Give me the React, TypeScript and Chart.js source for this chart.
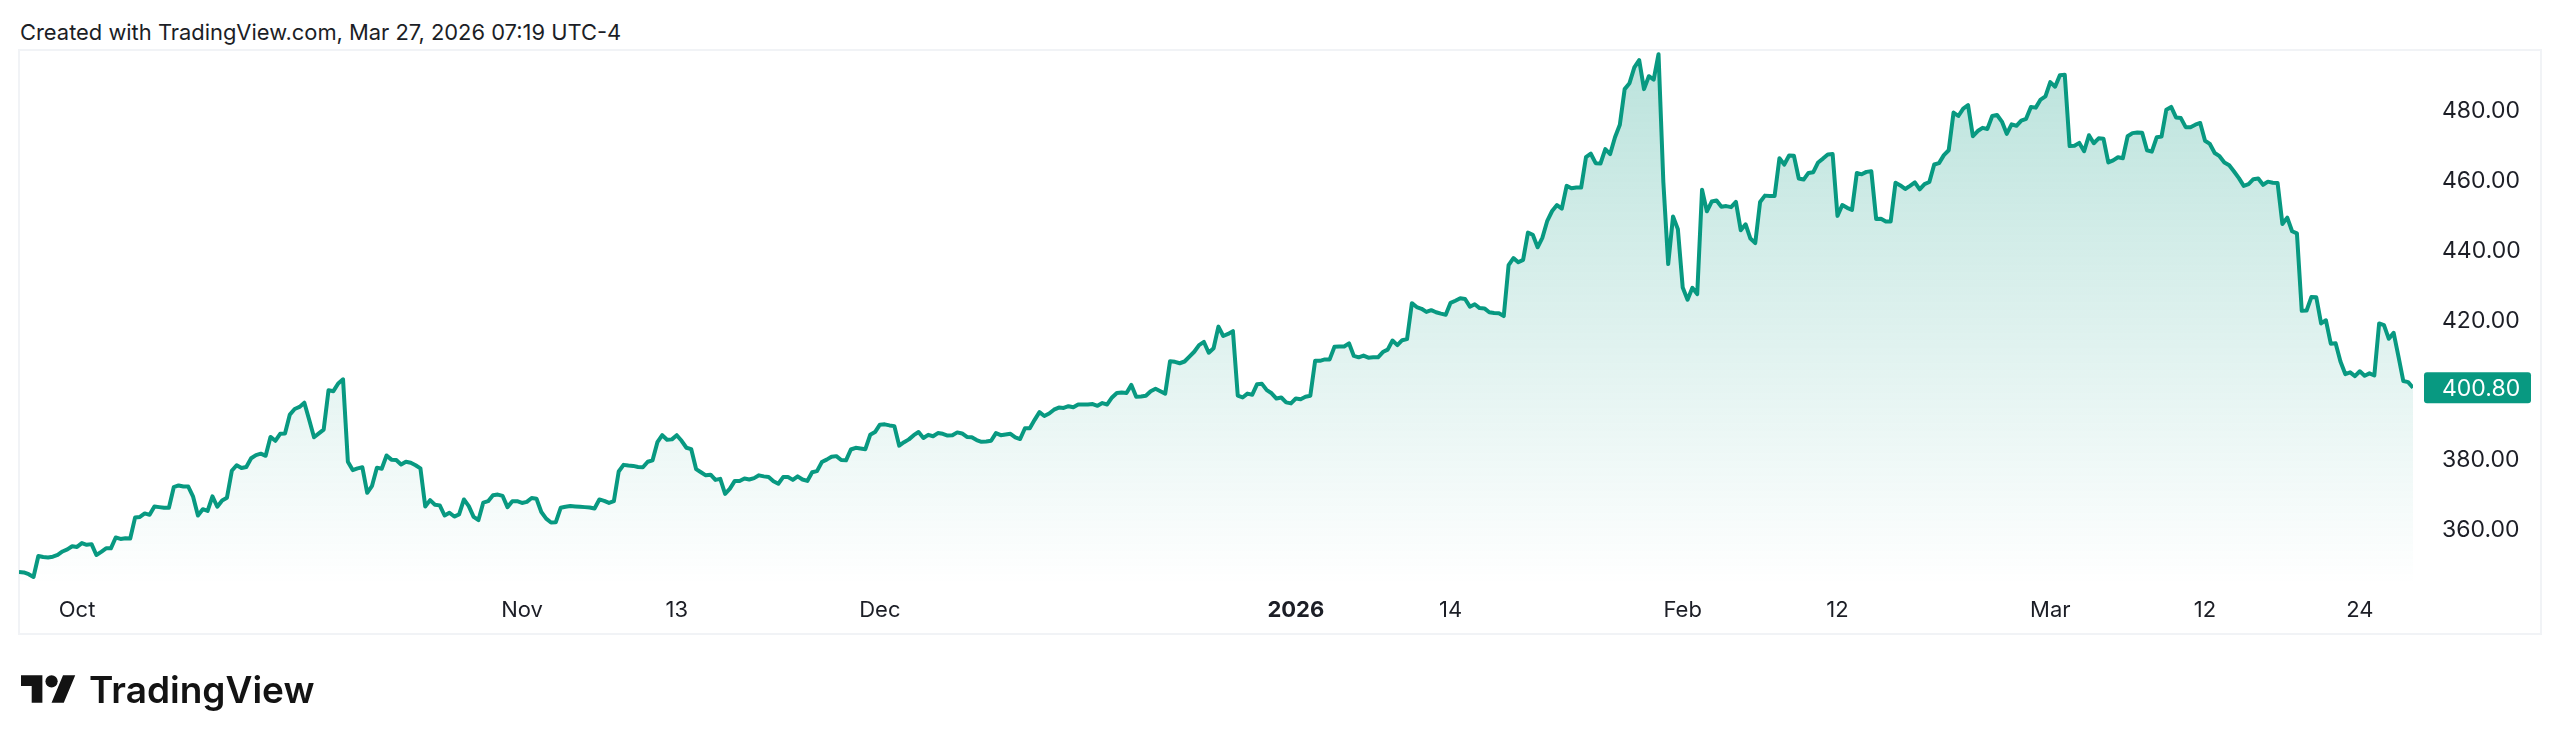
import { useEffect, useRef } from 'react'
import { Chart, registerables } from 'chart.js'

Chart.register(...registerables)

// closing prices, one per bar
const closes: number[] = [
  348.0, 347.9, 347.4, 346.6, 352.6, 352.3, 352.2, 352.4, 352.9, 353.9, 354.5, 355.4, 355.2, 356.3, 355.8, 356.0,
  352.9, 353.8, 354.8, 354.8, 357.9, 357.5, 357.7, 357.6, 363.6, 363.8, 364.8, 364.4, 366.8, 366.6, 366.4, 366.4,
  372.3, 372.8, 372.5, 372.5, 369.6, 364.2, 366.0, 365.5, 369.7, 366.7, 368.5, 369.3, 377.0, 378.6, 377.8, 378.1,
  380.6, 381.5, 381.9, 381.3, 386.7, 385.6, 387.6, 387.7, 393.1, 394.7, 395.3, 396.5, 391.6, 386.6, 387.7, 388.8,
  400.1, 399.8, 402.0, 403.2, 379.6, 377.2, 377.7, 378.0, 370.7, 372.7, 377.9, 377.6, 381.4, 380.2, 380.1, 378.8,
  379.6, 379.3, 378.6, 377.7, 366.8, 368.6, 367.3, 367.1, 364.2, 365.0, 363.9, 364.5, 368.8, 366.9, 363.8, 362.9,
  367.9, 368.3, 370.0, 370.2,
  369.8, 366.6, 368.3, 368.3, 367.8, 368.1, 369.2, 369.0, 365.2, 363.3, 362.2, 362.3, 366.4, 366.7, 366.9, 366.8,
  366.7, 366.6, 366.5, 366.2, 368.8, 368.4, 367.8, 368.3, 376.8, 378.7, 378.5, 378.4, 378.1, 378.0, 379.6, 380.0,
  385.2, 387.2, 385.9, 386.0, 387.2, 385.6, 383.6, 383.2, 377.5, 376.6, 375.7, 375.9, 374.4, 374.7, 370.4, 371.9,
  374.1, 374.1, 374.8, 374.5, 374.9, 375.7, 375.4, 375.2, 374.0, 373.3, 375.2, 375.2, 374.4, 375.4, 374.5, 374.1,
  376.6, 376.9, 379.5, 380.2, 381.0, 381.2, 380.1, 380.0, 383.1, 383.6, 383.4, 383.2, 387.3, 388.1, 390.2, 390.3,
  390.0, 389.8, 384.2, 385.2, 386.0, 387.2, 388.1, 386.4, 387.3, 386.9, 387.8, 387.6, 387.1, 387.2, 388.0, 387.7,
  386.7, 386.6, 385.8,
  385.3, 385.4, 385.6, 387.8, 387.2, 387.4, 387.6, 386.6, 386.1,
  389.2, 389.2, 391.6, 393.8, 392.7, 393.4, 394.5, 395.1, 395.0, 395.5, 395.2, 396.0, 396.0, 396.0, 396.1, 395.6,
  396.4, 396.0, 398.0, 399.3, 399.4, 399.3, 401.6, 398.2, 398.3, 398.5, 399.8, 400.5, 399.8, 399.1, 408.4, 408.2,
  407.8, 408.3, 409.7, 411.1, 413.0, 413.9, 410.8, 412.1, 418.3, 415.6, 416.2, 417.0, 398.5, 398.0, 399.1, 398.8,
  401.8, 401.9, 400.1, 399.2, 397.7, 398.0, 396.6, 396.3, 397.7, 397.5, 398.2, 398.5, 408.5, 408.5, 408.9, 408.9,
  412.5, 412.6, 412.6, 413.5, 409.9, 409.5, 410.0, 409.4, 409.5, 409.5, 411.0, 411.7, 414.3, 413.0, 414.4, 414.7,
  425.0, 423.9, 423.4, 422.5, 423.0, 422.4, 422.0, 421.7, 425.1, 425.7,
  426.4, 426.2, 424.0, 424.7, 423.6, 423.5, 422.4, 422.2, 422.1, 421.3, 435.9, 437.9, 436.7, 437.4, 445.2, 444.6,
  441.0, 443.8, 448.6, 451.4, 453.1, 452.1, 458.6, 457.9, 458.1, 458.1, 466.8, 467.8, 465.1, 465.0, 469.1, 467.7,
  472.5, 476.1, 486.3, 488.0, 492.5, 494.6, 486.3, 490.0, 489.0, 496.3, 459.6, 436.2, 449.8, 446.2, 429.5, 426.0,
  429.4, 427.6, 457.5, 451.3, 454.1, 454.4, 452.6, 452.8, 452.5, 454.0, 445.9, 447.6, 443.5, 442.2, 454.0, 455.8,
  455.7, 455.7, 466.5, 464.7, 467.3, 467.2, 460.7, 460.4, 462.3, 462.5, 465.3, 466.4, 467.6, 467.7, 450.0, 453.1,
  452.3, 451.7, 462.3, 461.9, 462.6, 462.8, 449.1, 449.2, 448.4, 448.4, 459.5, 458.7, 457.7, 458.6, 459.6, 457.6,
  459.1, 459.7, 464.7, 465.1,
  467.4, 468.8, 479.6, 478.6, 480.7, 481.7, 472.8, 474.3, 475.2, 474.9, 478.6, 478.9, 477.0, 473.5, 476.2, 475.8,
  477.3, 477.8, 481.2, 481.0, 483.3, 484.2, 488.3, 487.0, 490.3, 490.4, 470.0, 470.1, 470.9, 468.5, 473.1, 470.8,
  472.2, 472.1, 465.3, 465.9, 466.8, 466.5, 472.8, 473.7, 473.9, 473.8, 468.8, 468.4, 472.5, 472.7, 480.4, 481.2,
  478.2, 478.0, 475.4, 475.4, 476.1, 476.6, 471.5, 470.6, 468.0, 467.1, 465.3, 464.5, 462.7, 460.8, 458.6, 459.1,
  460.5, 460.7, 458.9, 459.8, 459.5, 459.4, 447.7, 449.5, 445.6, 445.0, 422.8, 422.9, 426.8, 426.7, 419.2, 420.1,
  413.4, 413.5, 408.3, 404.7, 405.2, 404.1, 405.5, 404.2, 404.9, 404.3, 419.2, 418.7, 414.8, 416.5, 409.7, 402.7,
  402.4, 400.8,
]

// bar index under each time-axis label
const xTickBars = [12, 104, 136, 178, 264, 296, 344, 376, 420, 452, 484]
const xTickLabels = ['Oct', 'Nov', '13', 'Dec', '2026', '14', 'Feb', '12', 'Mar', '12', '24']

const yTickStep = 20
const yMin = 344.3
const yMax = 497.5

const FONT = 'Inter, sans-serif'
const GREEN = '#089981'
const TEXT = '#1c1e26'

// last price tag on the right axis
const lastPriceTag = {
  id: 'lastPriceTag',
  afterDraw(chart: Chart) {
    const { ctx } = chart
    const last = closes[closes.length - 1]
    const y = chart.scales.y.getPixelForValue(last)
    ctx.save()
    ctx.fillStyle = GREEN
    ctx.beginPath()
    ctx.roundRect(2424, y - 15.5, 107, 31, 3)
    ctx.fill()
    ctx.fillStyle = '#ffffff'
    ctx.font = `23px ${FONT}`
    ctx.textAlign = 'left'
    ctx.textBaseline = 'middle'
    ctx.fillText(last.toFixed(2), 2442, y + 1)
    ctx.restore()
  },
}

export default function App() {
  const chartRef = useRef<HTMLCanvasElement | null>(null)

  useEffect(() => {
    if (!chartRef.current) return

    const chart = new Chart(chartRef.current, {
      type: 'line',
      data: {
        datasets: [
          {
            data: closes.map((y, i) => ({ x: i, y })),
            borderColor: GREEN,
            borderWidth: 4,
            borderJoinStyle: 'round',
            pointRadius: 0,
            tension: 0,
            fill: 'start',
            backgroundColor: (context: any) => {
              const { ctx, chartArea } = context.chart
              if (!chartArea) return 'transparent'
              const g = ctx.createLinearGradient(0, chartArea.top, 0, chartArea.bottom)
              g.addColorStop(0, 'rgba(8, 153, 129, 0.28)')
              g.addColorStop(1, 'rgba(8, 153, 129, 0)')
              return g
            },
          },
        ],
      },
      options: {
        responsive: false,
        animation: false,
        layout: { padding: { left: 19, top: 50, right: 0, bottom: 110 } },
        plugins: { legend: { display: false }, tooltip: { enabled: false } },
        scales: {
          x: {
            type: 'linear',
            min: 0,
            max: closes.length - 1,
            grid: { display: false, drawTicks: false },
            border: { display: false },
            afterBuildTicks: (scale: any) => {
              scale.ticks = xTickBars.map(value => ({ value }))
            },
            afterFit: (scale: any) => {
              scale.height = 50
            },
            ticks: {
              autoSkip: false,
              maxRotation: 0,
              padding: 12,
              color: TEXT,
              font: (context: any) => ({
                family: FONT,
                size: 22,
                weight: context.tick && context.tick.value === 264 ? 700 : 400,
              }),
              callback: (value: any) => xTickLabels[xTickBars.indexOf(value)],
            },
          },
          y: {
            position: 'right',
            min: yMin,
            max: yMax,
            grid: { display: false, drawTicks: false },
            border: { display: false },
            afterFit: (scale: any) => {
              scale.width = 147
            },
            ticks: {
              stepSize: yTickStep,
              includeBounds: false,
              autoSkip: false,
              padding: 29,
              crossAlign: 'near',
              color: TEXT,
              font: { family: FONT, size: 23 },
              callback: (value: any) => Number(value).toFixed(2),
            },
          },
        },
      },
      plugins: [lastPriceTag],
    })

    return () => {
      chart.destroy()
    }
  }, [])

  return (
    <div style={{ position: 'fixed', left: 0, top: 0, width: 2560, height: 745, background: '#fff', overflow: 'hidden' }}>
      <div
        style={{
          position: 'absolute',
          left: 20,
          top: 18,
          font: `21.9px/28px ${FONT}`,
          color: TEXT,
          whiteSpace: 'nowrap',
        }}
      >
        Created with TradingView.com, Mar 27, 2026 07:19 UTC-4
      </div>
      <div
        style={{
          position: 'absolute',
          left: 18,
          top: 49,
          width: 2524,
          height: 586,
          boxSizing: 'border-box',
          border: '2px solid #f1f3f6',
        }}
      />
      <canvas ref={chartRef} width={2560} height={745} style={{ position: 'absolute', left: 0, top: 0 }}></canvas>
      <svg
        viewBox="0 4 36 18"
        width={55}
        height={28}
        style={{ position: 'absolute', left: 21, top: 675 }}
      >
        <path fill="#131313" d="M14 22H7V11H0V4h14v18zM28 22h-8l7.5-18h8L28 22z" />
        <circle fill="#131313" cx="20" cy="8" r="4" />
      </svg>
      <div
        style={{
          position: 'absolute',
          left: 89,
          top: 667,
          font: `600 37px/46px ${FONT}`,
          color: '#131313',
          whiteSpace: 'nowrap',
        }}
      >
        TradingView
      </div>
    </div>
  )
}
